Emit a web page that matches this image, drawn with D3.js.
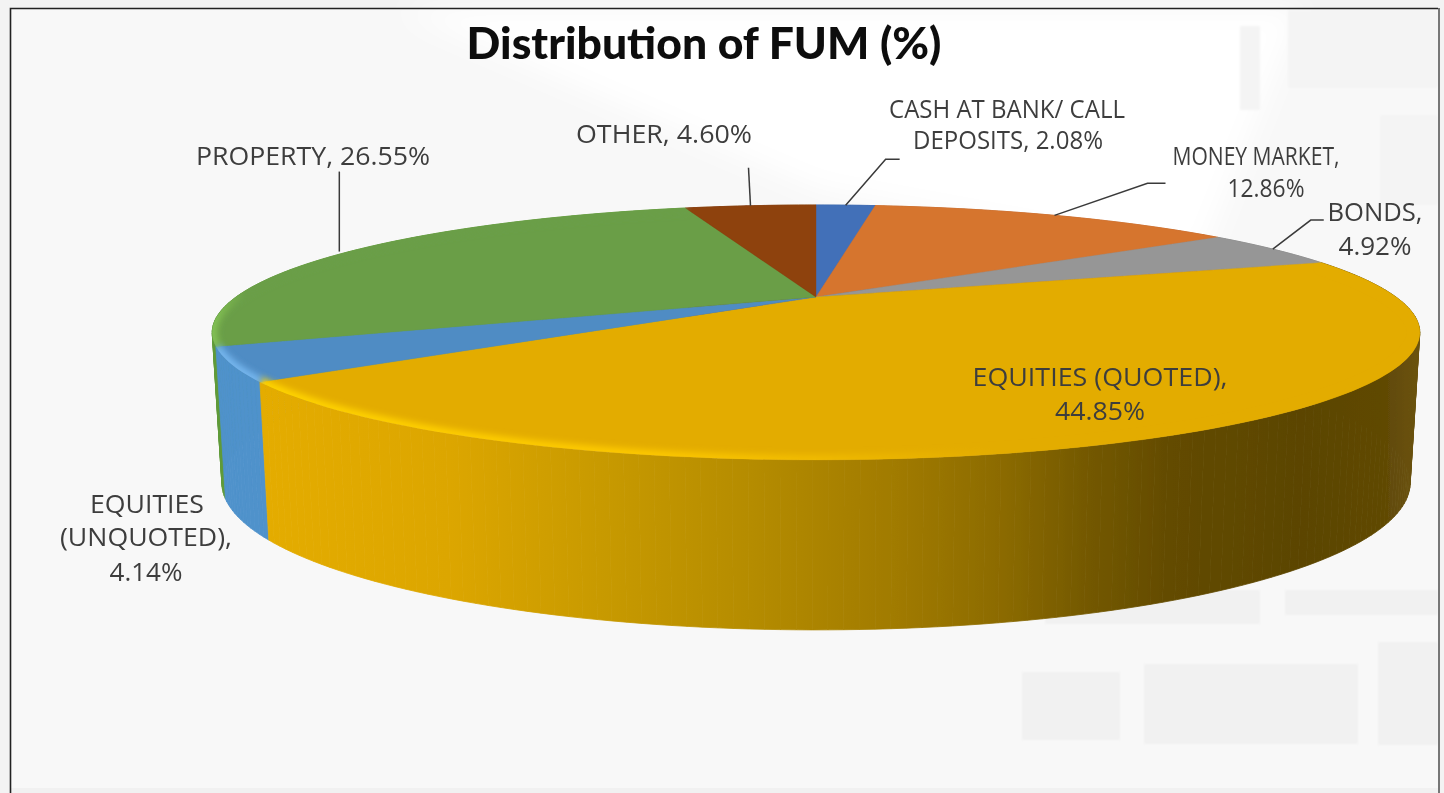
<!DOCTYPE html>
<html><head><meta charset="utf-8">
<script src="https://cdn.jsdelivr.net/npm/d3@7/dist/d3.min.js"></script>
<style>html,body{margin:0;padding:0;background:#f3f3f3;overflow:hidden}svg{display:block}</style>
</head><body><svg id="c" width="1444" height="793"></svg>
<script>
const categories = ["CASH AT BANK/ CALL DEPOSITS","MONEY MARKET","BONDS","EQUITIES (QUOTED)","EQUITIES (UNQUOTED)","PROPERTY","OTHER"];
const values = [2.08,12.86,4.92,44.85,4.14,26.55,4.60];
const topColors = ["#426fb8","#d6752f","#969696","#e3ac05","#4f8cc4","#6a9e47","#8e420f"];
const sideColors = ["#3a64a6","#c0682a","#858585","url(#sideGold)","#4f92cb","#5f9a3a","#7d3a0c"];
const rimColors = [null,null,null,"url(#rimGold)","#74b6ee","url(#rimGreen)",null];
const labelLines = [
  ["CASH AT BANK/ CALL","DEPOSITS, 2.08%"],["MONEY MARKET,","12.86%"],["BONDS,","4.92%"],
  ["EQUITIES (QUOTED),","44.85%"],["EQUITIES","(UNQUOTED),","4.14%"],["PROPERTY, 26.55%"],["OTHER, 4.60%"]];
const titleText = "Distribution of FUM (%)";

const svg = d3.select("#c");
const defs = svg.append("defs");
const W=1444,H=793;

// perspective projection of the unit disc
const k=0.278;
const sx=d3.scaleLinear().domain([-1,1]).range([816-580,816+580]);
const sy=d3.scaleLinear().domain([-1,1]).range([297+117.6,297-117.6]);
const proj=a=>{const X=Math.sin(a),Y=Math.cos(a),d=1+k*Y;return [sx(X/d),sy(Y/d)];};
const proj0=a=>{const p=proj(a);return [816+(p[0]-816)*0.984,p[1]+150+(p[1]-330)*0.154];};
const centre=[sx(0),sy(0)];
const line=d3.line();
const arcs=d3.pie().sort(null).value(d=>d)(values);
const sample=(a0,a1,f,n=60)=>d3.range(0,n+1).map(i=>f(a0+(a1-a0)*i/n));

// defs
const grad=(id,stops,x1,x2)=>{const g=defs.append("linearGradient").attr("id",id).attr("gradientUnits","userSpaceOnUse")
  .attr("x1",x1).attr("x2",x2).attr("y1",0).attr("y2",0);
  stops.forEach(s=>g.append("stop").attr("offset",(s[0]-x1)/(x2-x1)).attr("stop-color",s[1]));};
grad("sideGold",[[265,"#e4ac05"],[450,"#dca606"],[600,"#c89a06"],[750,"#b58c04"],[900,"#a07a00"],[1000,"#8c6b00"],[1090,"#735800"],[1170,"#634b00"],[1300,"#5b4500"],[1380,"#5f4804"],[1415,"#6a520e"]],265,1415);
grad("rimGold",[[265,"#ffd400"],[650,"#fdc800"],[850,"#eeb803"],[1000,"#e3ac05"],[1420,"#e3ac05"]],265,1420);
grad("rimGreen",[[212,"#84c455"],[245,"#6a9e47"],[800,"#6a9e47"]],212,800);
const blur=(id,s)=>defs.append("filter").attr("id",id).attr("x","-20%").attr("y","-20%").attr("width","140%").attr("height","140%").append("feGaussianBlur").attr("stdDeviation",s);
blur("b3",3);blur("b0",0.6);blur("b9",14);blur("bt",0.45);blur("bs",1.2);
defs.append("clipPath").attr("id","disc").append("path").attr("d",line(sample(0,2*Math.PI,proj,240))+"Z");

// backdrop
svg.append("rect").attr("width",W).attr("height",H).attr("fill","#f3f3f3");
svg.append("rect").attr("x",10).attr("y",8).attr("width",1429).attr("height",H).attr("fill","#f8f8f8");
const bg=svg.append("g");
bg.append("path").attr("d","M400,10L1300,10L1200,260L820,190Z").attr("fill","#fff").attr("filter","url(#b9)");
[[1022,672,98,68],[1144,664,214,80],[1378,642,60,103],[1045,590,215,34],[1285,590,153,25]].forEach(r=>
  bg.append("rect").attr("x",r[0]).attr("y",r[1]).attr("width",r[2]).attr("height",r[3]).attr("fill","#f1f1f1").attr("filter","url(#bs)"));
[[1288,10,150,78],[1240,26,20,84],[1380,115,58,90]].forEach(r=>
  bg.append("rect").attr("x",r[0]).attr("y",r[1]).attr("width",r[2]).attr("height",r[3]).attr("fill","#f4f4f4").attr("filter","url(#bs)"));
bg.append("rect").attr("x",11).attr("y",788).attr("width",1427).attr("height",5).attr("fill","#f1f1f1");
svg.append("path").attr("d","M10.5,793V8.5H1438").attr("fill","none").attr("stroke","#222").attr("stroke-width",1.6);
svg.append("path").attr("d","M1439,8V793").attr("fill","none").attr("stroke","#777").attr("stroke-width",2);

// pie: side wall swept quad by quad, far ones first
const pie=svg.append("g").attr("filter","url(#b0)");
const quads=[];
arcs.forEach((d,i)=>{
  const n=Math.max(2,Math.ceil((d.endAngle-d.startAngle)/0.02));
  const a=sample(d.startAngle,d.endAngle,proj,n), b=sample(d.startAngle,d.endAngle,proj0,n);
  for(let j=0;j<n;j++) quads.push({i,pts:[a[j],a[j+1],b[j+1],b[j]],depth:Math.cos(d.startAngle+(d.endAngle-d.startAngle)*(j+.5)/n)});
});
quads.sort((p,q)=>q.depth-p.depth);
pie.selectAll("path.q").data(quads).join("path").attr("class","q").attr("d",q=>line(q.pts)+"Z")
  .attr("fill",q=>sideColors[q.i]).attr("stroke",q=>sideColors[q.i]).attr("stroke-width",0.8);
arcs.forEach((d,i)=>{
  const a=sample(d.startAngle,d.endAngle,proj);
  pie.append("path").attr("d",line([centre].concat(a))+"Z").attr("fill",topColors[i]).attr("stroke",topColors[i]).attr("stroke-width",0.4);
});
const rims=pie.append("g").attr("clip-path","url(#disc)");
arcs.forEach((d,i)=>{
  if(!rimColors[i])return;
  rims.append("path").attr("d",line(sample(d.startAngle,d.endAngle,proj))).attr("fill","none")
    .attr("stroke",rimColors[i]).attr("stroke-width",10).attr("filter","url(#b3)");
});

// leaders: start on the rim at the middle of the slice
const mid=d=>(d.startAngle+d.endAngle)/2;
const elbows={0:[[40,-46],[54,-46]],1:[[93,-32],[111,-32]],2:[[38,-29],[51,-29]],5:[[-10,-80]],6:[[-2,-38]]};
Object.keys(elbows).forEach(i=>{
  const p=proj(mid(arcs[i]));
  const pts=[p].concat(elbows[i].map(o=>[p[0]+o[0],p[1]+o[1]]));
  if(i==="5")p[0]-=10;
  svg.append("path").attr("d",line(pts)).attr("fill","none").attr("stroke","#3a3a3a").attr("stroke-width",1.5);
});

// labels: per-line centre, baseline and measured width
const labelLayout=[
  [[1007,118,236],[1008,149,190]],
  [[1256,165,167],[1266,197,77]],
  [[1375,221,95],[1375,255,73]],
  [[1100,386,255],[1100,420,90]],
  [[147,513,114],[146,546,172],[146,581,73]],
  [[313,165,234]],
  [[664,143,176]]];
const T=svg.append("g").attr("font-family","'Open Sans','Noto Sans',sans-serif").attr("font-size",25.5).attr("fill","#3e3e3e").attr("text-anchor","middle").attr("filter","url(#bt)");
labelLines.forEach((ls,i)=>{
  ls.forEach((s,j)=>{const L=labelLayout[i][j];
    T.append("text").attr("x",L[0]).attr("y",L[1]).attr("textLength",L[2]).attr("lengthAdjust","spacingAndGlyphs").text(s);});
});
svg.append("text").attr("x",704).attr("y",59).attr("text-anchor","middle").attr("font-family","Lato,'Noto Sans',sans-serif")
  .attr("font-weight",900).attr("font-size",44.5).attr("fill","#111").attr("filter","url(#bt)").text(titleText);
</script></body></html>
